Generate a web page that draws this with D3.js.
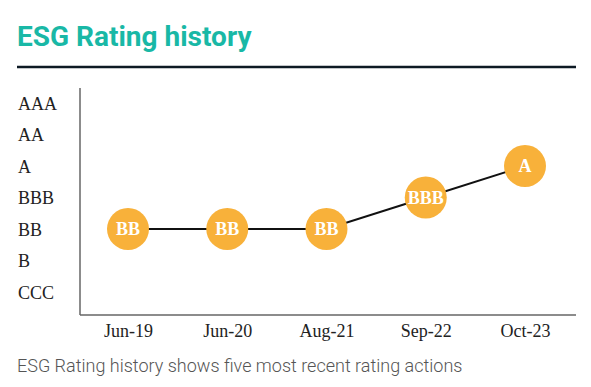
<!DOCTYPE html>
<html>
<head>
<meta charset="utf-8">
<script src="https://cdn.jsdelivr.net/npm/d3@7"></script>
<style>
body { margin: 0; background: #fff; }
svg { display: block; }
.ytick text, .xtick text { font-family: "Liberation Serif", "Times New Roman", serif; font-size: 18px; fill: #222; }
</style>
</head>
<body>
<div class="main"></div>
<script>
// data
var ratings = ["AAA", "AA", "A", "BBB", "BB", "B", "CCC"];
var dates = ["Jun-19", "Jun-20", "Aug-21", "Sep-22", "Oct-23"];
var ratingHistory = ["BB", "BB", "BB", "BBB", "A"];

var width = 591, height = 387;

var svg = d3.select(".main")
.append("svg")
.attr("width", width)
.attr("height", height);

// title + rule
svg.append("text")
.attr("x", 17)
.attr("y", 46)
.style("font-family", "Roboto, sans-serif")
.style("font-weight", "bold")
.style("font-size", "28px")
.style("fill", "#19b8a6")
.text("ESG Rating history");

svg.append("line")
.attr("x1", 17).attr("x2", 576)
.attr("y1", 67).attr("y2", 67)
.style("stroke", "#0d1a24")
.style("stroke-width", 2.5);

// scales
var x = d3.scalePoint()
.domain(dates)
.range([128, 525]);

var y = d3.scalePoint()
.domain(ratings)
.range([103, 292]);

// axes lines
svg.append("line")
.attr("x1", 80).attr("x2", 80)
.attr("y1", 88).attr("y2", 315)
.style("stroke", "#666").style("stroke-width", 1.5);
svg.append("line")
.attr("x1", 80).attr("x2", 576)
.attr("y1", 315).attr("y2", 315)
.style("stroke", "#666").style("stroke-width", 1.5);

// y labels
var yAxis = d3.axisLeft(y).tickSize(0).tickPadding(0);
var yg = svg.append("g")
.attr("class", "ytick")
.attr("transform", "translate(18,0)")
.call(yAxis);
yg.select(".domain").remove();
yg.selectAll("text")
.attr("x", 0)
.style("text-anchor", "start")
.attr("dy", ".35em");
yg.attr("font-family", null).attr("font-size", null);

// x labels
var xAxis = d3.axisBottom(x).tickSize(0).tickPadding(0);
var xg = svg.append("g")
.attr("class", "xtick")
.attr("transform", "translate(0,337)")
.call(xAxis);
xg.select(".domain").remove();
xg.selectAll("text").attr("dy", 0).attr("y", 0);
xg.attr("font-family", null).attr("font-size", null);

// line
var line = d3.line()
.x(function(d, i) { return x(dates[i]); })
.y(function(d) { return y(d); });

svg.append("path")
.attr("d", line(ratingHistory))
.style("stroke", "#111")
.style("stroke-width", 2)
.style("fill", "none");

// points
var pt = svg.selectAll(".pt")
.data(ratingHistory)
.enter().append("g")
.attr("class", "pt")
.attr("transform", function(d, i) {
    return "translate(" + x(dates[i]) + "," + y(d) + ")";
});

pt.append("circle")
.attr("r", 21)
.style("fill", "#f8b13a");

pt.append("text")
.attr("dy", ".35em")
.style("text-anchor", "middle")
.style("font-family", "'Liberation Serif', serif")
.style("font-weight", "bold")
.style("font-size", "18px")
.style("fill", "#fff")
.text(function(d) { return d; });

// caption
svg.append("text")
.attr("x", 17)
.attr("y", 372)
.style("font-family", "Roboto, sans-serif")
.style("font-weight", 300)
.style("font-size", "18px")
.style("fill", "#555")
.text("ESG Rating history shows five most recent rating actions");
</script>
</body>
</html>
